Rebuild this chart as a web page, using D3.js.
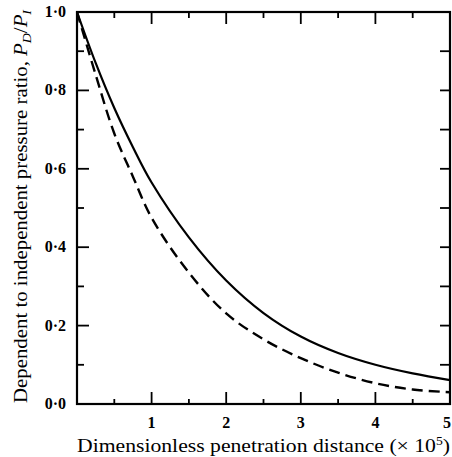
<!DOCTYPE html>
<html>
<head>
<meta charset="utf-8">
<script src="https://cdn.jsdelivr.net/npm/d3@7"></script>
<style>
  body { margin: 0; background: #fff; }
  svg { display: block; }
  text { font-family: "Liberation Serif", "DejaVu Serif", serif; fill: #000; }
</style>
</head>
<body>
<div id="chart"></div>
<script>
// Chart size
const width = 452;
const height = 457;
const margin = { top: 12, right: 2, bottom: 53, left: 77 };

// Data
const distance = [0, 0.25, 0.5, 0.75, 1, 1.5, 2, 2.5, 3, 3.5, 4, 4.5, 5];
const solidRatio = [1.0, 0.87, 0.755, 0.655, 0.565, 0.425, 0.315, 0.232, 0.172, 0.13, 0.1, 0.078, 0.061];
const dashedRatio = [1.0, 0.84, 0.69, 0.58, 0.475, 0.335, 0.231, 0.165, 0.117, 0.08, 0.053, 0.037, 0.03];
const xTicks = [1, 2, 3, 4, 5];
const yTicks = [0, 0.2, 0.4, 0.6, 0.8, 1.0];
const yLabels = ["0·0", "0·2", "0·4", "0·6", "0·8", "1·0"];

const svg = d3.select("#chart")
    .append("svg")
    .attr("width", width)
    .attr("height", height);

const x = d3.scaleLinear().domain([0, 5]).range([margin.left, width - margin.right]);
const y = d3.scaleLinear().domain([0, 1]).range([height - margin.bottom, margin.top]);

// Ticks (all pointing inwards)
const xMinor = d3.range(0.5, 5, 0.5);
const yMinor = d3.range(0.1, 1.0, 0.1);

const ticks = svg.append("g").attr("stroke", "#000").attr("stroke-width", 1.8);

// bottom
xMinor.forEach(v => {
    const major = Number.isInteger(Math.round(v * 100) / 100);
    ticks.append("line")
        .attr("x1", x(v)).attr("x2", x(v))
        .attr("y1", y(0)).attr("y2", y(0) - (major ? 12 : 5));
});
// top
xMinor.forEach(v => {
    const major = Number.isInteger(Math.round(v * 100) / 100);
    ticks.append("line")
        .attr("x1", x(v)).attr("x2", x(v))
        .attr("y1", y(1)).attr("y2", y(1) + (major ? 12 : 6));
});
// left
yMinor.forEach(v => {
    const major = Math.round(v * 10) % 2 === 0;
    ticks.append("line")
        .attr("x1", x(0)).attr("x2", x(0) + (major ? 12 : 7))
        .attr("y1", y(v)).attr("y2", y(v));
});
// right
yMinor.forEach(v => {
    ticks.append("line")
        .attr("x1", x(5)).attr("x2", x(5) - 10)
        .attr("y1", y(v)).attr("y2", y(v));
});

// Frame
svg.append("rect")
    .attr("x", x(0)).attr("y", y(1))
    .attr("width", x(5) - x(0)).attr("height", y(0) - y(1))
    .attr("fill", "none")
    .attr("stroke", "#000")
    .attr("stroke-width", 2.2);

// Curves
const line = d3.line()
    .x((d, i) => x(distance[i]))
    .y(d => y(d))
    .curve(d3.curveCatmullRom.alpha(0.5));

svg.append("path")
    .datum(solidRatio)
    .attr("d", line)
    .attr("fill", "none")
    .attr("stroke", "#000")
    .attr("stroke-width", 2.2);

svg.append("path")
    .datum(dashedRatio)
    .attr("d", line)
    .attr("fill", "none")
    .attr("stroke", "#000")
    .attr("stroke-width", 2.4)
    .attr("stroke-dasharray", "11,6");

// Tick labels
svg.append("g")
    .selectAll("text")
    .data(yTicks)
    .enter().append("text")
    .attr("x", 66)
    .attr("y", d => y(d) + 5)
    .attr("text-anchor", "end")
    .attr("font-size", 16)
    .attr("font-weight", "bold")
    .text((d, i) => yLabels[i]);

svg.append("g")
    .selectAll("text")
    .data(xTicks)
    .enter().append("text")
    .attr("x", d => d === 5 ? width - 1 : x(d))
    .attr("y", 428)
    .attr("text-anchor", d => d === 5 ? "end" : "middle")
    .attr("font-size", 16)
    .attr("font-weight", "bold")
    .text(d => d);

// Axis titles
const xt = svg.append("text")
    .attr("x", 77)
    .attr("y", 452)
    .attr("font-size", 19)
    .attr("textLength", 373)
    .attr("lengthAdjust", "spacingAndGlyphs");
xt.append("tspan").text("Dimensionless penetration distance (× 10");
xt.append("tspan").attr("dy", -7).attr("font-size", 12).text("5");
xt.append("tspan").attr("dy", 7).text(")");

const yt = svg.append("text")
    .attr("transform", "translate(27,403) rotate(-90)")
    .attr("x", 0)
    .attr("y", 0)
    .attr("font-size", 18)
    .attr("textLength", 393)
    .attr("lengthAdjust", "spacingAndGlyphs");
yt.append("tspan").text("Dependent to independent pressure ratio, ");
yt.append("tspan").attr("font-style", "italic").text("P");
yt.append("tspan").attr("font-style", "italic").attr("font-size", 12).attr("dy", 4).text("D");
yt.append("tspan").attr("dy", -4).text("/");
yt.append("tspan").attr("font-style", "italic").text("P");
yt.append("tspan").attr("font-style", "italic").attr("font-size", 12).attr("dy", 4).text("I");
</script>
</body>
</html>
